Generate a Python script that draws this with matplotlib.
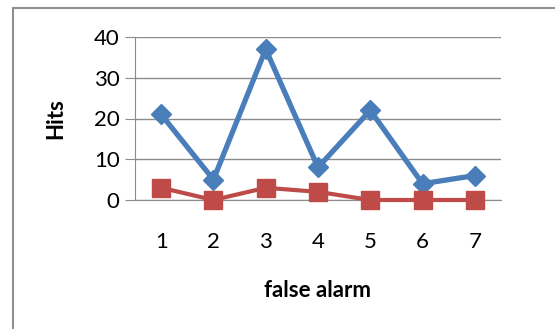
import matplotlib
matplotlib.use("Agg")
import matplotlib.pyplot as plt
from matplotlib.patches import Rectangle

categories = [1, 2, 3, 4, 5, 6, 7]
series_blue = [21, 5, 37, 8, 22, 4, 6]
series_red = [3, 0, 3, 2, 0, 0, 0]
yticks = [0, 10, 20, 30, 40]

plt.rcParams["font.family"] = ["Lato", "DejaVu Sans"]

W, H = 555, 329
fig = plt.figure(figsize=(W / 100, H / 100), dpi=100)
fig.patch.set_facecolor("white")

# outer chart border
fig.patches.append(Rectangle((13 / W, -0.1), 1.2, 1 - 8 / H + 0.1, transform=fig.transFigure,
                             fill=False, edgecolor="#909090", linewidth=1.5))

ax = fig.add_axes([135 / W, 1 - 200 / H, (501 - 135) / W, (200 - 37) / H])
ax.set_xlim(0.5, 7.5)
ax.set_ylim(0, 40)
ax.set_yticks(yticks)
ax.set_xticks(categories)
ax.grid(axis="y", color="#8c8c8c", linewidth=1)
ax.set_axisbelow(True)
for s in ["top", "right"]:
    ax.spines[s].set_visible(False)
ax.spines["left"].set_color("#8c8c8c")
ax.spines["bottom"].set_color("#8c8c8c")
ax.tick_params(axis="y", length=7, color="#8c8c8c", labelsize=16, pad=4)
ax.tick_params(axis="x", length=0, labelsize=16, pad=23)

ax.plot(categories, series_blue, color="#4a7ebb", linewidth=3.8, marker="D",
        markersize=10.5, clip_on=False, zorder=3)
ax.plot(categories, series_red, color="#be4b48", linewidth=3, marker="s",
        markersize=13, clip_on=False, zorder=4)

ax.set_ylabel("Hits", fontsize=16, fontweight="bold", labelpad=20)
ax.set_xlabel("false alarm", fontsize=16, fontweight="bold", labelpad=20)

fig.savefig("out.png", dpi=100)
